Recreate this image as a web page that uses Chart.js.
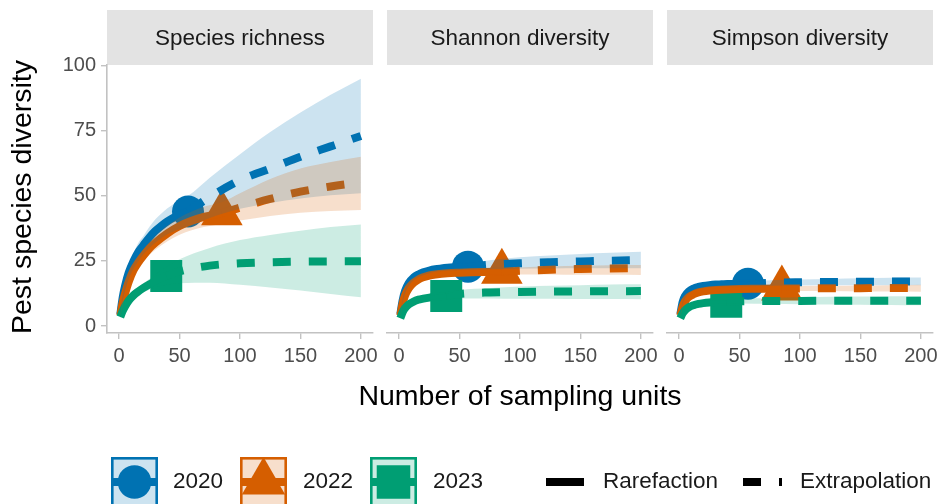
<!DOCTYPE html>
<html>
<head>
<meta charset="utf-8">
<script src="https://cdn.jsdelivr.net/npm/chart.js@4.4.1/dist/chart.umd.min.js"></script>
<style>
  html, body { margin: 0; padding: 0; background: #ffffff; }
  #wrap { position: relative; width: 942px; height: 504px; overflow: hidden; }
  #wrap canvas { position: absolute; left: 0; top: 0; }
</style>
</head>
<body>
<div id="wrap">
  <canvas id="panel0" width="1000" height="504"></canvas>
  <canvas id="panel1" width="1000" height="504"></canvas>
  <canvas id="panel2" width="1000" height="504"></canvas>
</div>
<script>
const FONT = "'Liberation Sans', Arial, Helvetica, sans-serif";

const panelTitles = ['Species richness', 'Shannon diversity', 'Simpson diversity'];
const years = ['2020', '2022', '2023'];
const methodLabels = ['Rarefaction', 'Extrapolation'];
const xTickValues = [0, 50, 100, 150, 200];
const yTickValues = [0, 25, 50, 75, 100];

// Sampling-unit grids; the reference sample size splits rarefaction from extrapolation
const units2020 = [1, 3, 5, 8, 12, 16, 20, 25, 30, 35, 40, 45, 50, 57, 75, 100, 125, 150, 175, 200];
const units2022 = [1, 3, 5, 8, 12, 16, 20, 25, 30, 40, 50, 60, 70, 85, 100, 125, 150, 175, 200];
const units2023 = [1, 3, 5, 8, 12, 16, 20, 25, 30, 35, 39, 50, 75, 100, 125, 150, 175, 200];
const refUnits = [57, 85, 39];

// Species richness (q = 0)
const richness2020   = [4.5, 11, 15.5, 20.5, 25, 28.5, 31, 34, 36.5, 38.5, 40.2, 41.6, 42.8, 44, 49.5, 56, 60.5, 65, 69, 73];
const richness2020Lo = [3.5, 9.5, 13.5, 18, 22, 25, 27.5, 30, 32, 33.8, 35.2, 36.3, 37.2, 38.3, 41.5, 45, 47.3, 49, 50.2, 51];
const richness2020Hi = [5.5, 12.5, 17.5, 23, 28, 32, 34.5, 38, 41, 43.2, 45.2, 46.9, 48.4, 50, 57, 66, 74.5, 82, 88.8, 95];
const richness2022   = [4, 9, 12.5, 17, 21.5, 24.5, 27, 29.8, 32, 35.6, 38.4, 40.4, 41.9, 43.3, 45.5, 48.8, 51.6, 53.6, 55.2];
const richness2022Lo = [3.3, 8, 11.2, 15.4, 19.6, 22.4, 24.7, 27.3, 29.3, 32.6, 35.1, 36.8, 38, 39.2, 40.5, 42.3, 43.5, 44.2, 44.6];
const richness2022Hi = [4.7, 10, 13.8, 18.6, 23.4, 26.6, 29.3, 32.3, 34.7, 38.6, 41.7, 44, 45.8, 47.6, 51, 56.5, 60.5, 63, 65];
const richness2023   = [3.5, 5.8, 7.6, 9.8, 11.8, 13.3, 14.6, 16, 17.3, 18.4, 19.2, 21, 23.2, 24.1, 24.5, 24.7, 24.8, 24.9];
const richness2023Lo = [3, 5.1, 6.7, 8.7, 10.4, 11.7, 12.8, 13.9, 14.8, 15.4, 15.8, 16.4, 16.6, 15.8, 14.8, 13.6, 12.3, 11];
const richness2023Hi = [4, 6.5, 8.5, 10.9, 13.2, 14.9, 16.4, 18.1, 19.8, 21.4, 22.6, 25.6, 30, 33, 35, 36.6, 38, 39];

// Shannon diversity (q = 1)
const shannon2020   = [4.5, 10, 13.5, 16.5, 18.6, 19.8, 20.6, 21.3, 21.8, 22.1, 22.35, 22.55, 22.7, 22.8, 23.5, 24.1, 24.5, 24.8, 25.1, 25.3];
const shannon2020Lo = [4, 9.2, 12.6, 15.5, 17.6, 18.8, 19.6, 20.3, 20.8, 21.1, 21.3, 21.4, 21.5, 21.6, 21.8, 22, 22.1, 22.2, 22.2, 22.2];
const shannon2020Hi = [5, 10.8, 14.4, 17.5, 19.6, 20.8, 21.6, 22.3, 22.8, 23.1, 23.4, 23.7, 23.9, 24.1, 25.3, 26.4, 27.1, 27.7, 28.1, 28.5];
const shannon2022   = [4, 8.8, 11.8, 14.5, 16.6, 17.9, 18.7, 19.4, 19.8, 20.3, 20.5, 20.65, 20.75, 20.85, 21.2, 21.6, 21.9, 22.1, 22.3];
const shannon2022Lo = [3.6, 8.2, 11.1, 13.8, 15.9, 17.2, 18, 18.7, 19.1, 19.6, 19.8, 19.9, 19.9, 19.9, 19.8, 19.8, 19.7, 19.7, 19.6];
const shannon2022Hi = [4.4, 9.4, 12.5, 15.2, 17.3, 18.6, 19.4, 20.1, 20.5, 21, 21.2, 21.4, 21.6, 21.8, 22.5, 22.9, 23.1, 23.3, 23.4];
const shannon2023   = [3, 5.4, 6.9, 8.3, 9.4, 10.1, 10.5, 10.9, 11.2, 11.4, 11.5, 12.3, 12.9, 13.1, 13.2, 13.3, 13.35, 13.4];
const shannon2023Lo = [2.7, 5, 6.4, 7.8, 8.8, 9.5, 9.9, 10.2, 10.4, 10.5, 10.5, 10.6, 10.6, 10.5, 10.5, 10.4, 10.4, 10.3];
const shannon2023Hi = [3.3, 5.8, 7.4, 8.8, 10, 10.7, 11.1, 11.6, 11.9, 12.2, 12.4, 13.7, 14.6, 15.2, 15.5, 15.7, 15.9, 16];

// Simpson diversity (q = 2)
const simpson2020   = [4.5, 9.3, 11.6, 13.3, 14.4, 15, 15.4, 15.7, 15.9, 16, 16.1, 16.15, 16.2, 16.25, 16.6, 16.8, 16.9, 17, 17.05, 17.1];
const simpson2020Lo = [4, 8.6, 10.8, 12.5, 13.6, 14.2, 14.6, 14.9, 15.1, 15.2, 15.3, 15.3, 15.3, 15.3, 15.5, 15.6, 15.7, 15.7, 15.7, 15.7];
const simpson2020Hi = [5, 10, 12.4, 14.1, 15.2, 15.8, 16.2, 16.5, 16.7, 16.8, 16.9, 17, 17.1, 17.2, 17.6, 17.9, 18.1, 18.3, 18.5, 18.6];
const simpson2022   = [4, 7.6, 9.5, 11.1, 12.2, 12.9, 13.3, 13.6, 13.8, 14.05, 14.2, 14.3, 14.35, 14.4, 14.45, 14.5, 14.55, 14.6, 14.6];
const simpson2022Lo = [3.6, 7, 8.9, 10.5, 11.6, 12.3, 12.7, 13, 13.2, 13.4, 13.5, 13.5, 13.5, 13.5, 13.4, 13.4, 13.3, 13.3, 13.2];
const simpson2022Hi = [4.4, 8.2, 10.1, 11.7, 12.8, 13.5, 13.9, 14.2, 14.4, 14.7, 14.9, 15, 15.1, 15.3, 15.4, 15.5, 15.6, 15.7, 15.8];
const simpson2023   = [3, 4.9, 6.1, 7.2, 8, 8.5, 8.8, 9.05, 9.2, 9.3, 9.35, 9.5, 9.6, 9.65, 9.7, 9.7, 9.7, 9.7];
const simpson2023Lo = [2.7, 4.5, 5.7, 6.8, 7.5, 8, 8.3, 8.5, 8.6, 8.7, 8.7, 8.6, 8.5, 8.4, 8.3, 8.2, 8.1, 8];
const simpson2023Hi = [3.3, 5.3, 6.5, 7.6, 8.5, 9, 9.3, 9.6, 9.8, 9.9, 10, 10.5, 10.8, 11, 11.2, 11.3, 11.4, 11.5];

// Styling
const seriesColors = ['#0072B2', '#D55E00', '#009E73'];
const bandColors = ['rgba(0,114,178,0.2)', 'rgba(213,94,0,0.2)', 'rgba(0,158,115,0.2)'];
const pointStyles = ['circle', 'triangle', 'rect'];
const pointRadii = [16, 24, 22.6];
const LINE_W = 8;
const DASH = [18, 18];
const AXIS_GREY = '#C2C2C2';

const unitGrids = [units2020, units2022, units2023];
const meanSets = [
  [richness2020, richness2022, richness2023],
  [shannon2020, shannon2022, shannon2023],
  [simpson2020, simpson2022, simpson2023]
];
const lowSets = [
  [richness2020Lo, richness2022Lo, richness2023Lo],
  [shannon2020Lo, shannon2022Lo, shannon2023Lo],
  [simpson2020Lo, simpson2022Lo, simpson2023Lo]
];
const highSets = [
  [richness2020Hi, richness2022Hi, richness2023Hi],
  [shannon2020Hi, shannon2022Hi, shannon2023Hi],
  [simpson2020Hi, simpson2022Hi, simpson2023Hi]
];

// Panel frames in page pixels
const CANVAS_W = 1000;
const panelLeft = [107, 387, 667];
const panelWidth = 266;
const panelTop = 65;
const panelBottom = 333;
const X_AXIS_H = 36;
const Y_AXIS_W = 52;

function toPoints(xs, ys, from, to) {
  const out = [];
  for (let i = from; i <= to; i++) out.push({ x: xs[i], y: ys[i] });
  return out;
}

function buildDatasets(p) {
  const seq = [];
  // points first, then curves, then the translucent confidence bands on top
  years.forEach((yr, k) => {
    const grid = unitGrids[k];
    const r = grid.indexOf(refUnits[k]);
    seq.push({
      label: yr + ' observed',
      data: [{ x: grid[r], y: meanSets[p][k][r] }],
      showLine: false,
      pointStyle: pointStyles[k],
      pointRadius: pointRadii[k],
      pointBackgroundColor: seriesColors[k],
      pointBorderWidth: 0,
      borderColor: seriesColors[k]
    });
  });
  years.forEach((yr, k) => {
    const grid = unitGrids[k];
    const r = grid.indexOf(refUnits[k]);
    seq.push({
      label: yr + ' ' + methodLabels[0],
      data: toPoints(grid, meanSets[p][k], 0, r),
      borderColor: seriesColors[k],
      borderWidth: LINE_W,
      borderCapStyle: 'butt',
      cubicInterpolationMode: 'monotone',
      pointRadius: 0,
      fill: false
    });
    seq.push({
      label: yr + ' ' + methodLabels[1],
      data: toPoints(grid, meanSets[p][k], r, grid.length - 1),
      borderColor: seriesColors[k],
      borderWidth: LINE_W,
      borderDash: DASH,
      borderCapStyle: 'butt',
      cubicInterpolationMode: 'monotone',
      pointRadius: 0,
      fill: false
    });
  });
  years.forEach((yr, k) => {
    const grid = unitGrids[k];
    seq.push({
      label: yr + ' lower',
      data: toPoints(grid, lowSets[p][k], 0, grid.length - 1),
      borderColor: 'rgba(0,0,0,0)',
      borderWidth: 0,
      cubicInterpolationMode: 'monotone',
      pointRadius: 0,
      fill: false
    });
    seq.push({
      label: yr + ' upper',
      data: toPoints(grid, highSets[p][k], 0, grid.length - 1),
      borderColor: 'rgba(0,0,0,0)',
      borderWidth: 0,
      backgroundColor: bandColors[k],
      cubicInterpolationMode: 'monotone',
      pointRadius: 0,
      fill: '-1'
    });
  });
  const n = seq.length;
  seq.forEach((d, i) => { d.order = n - i; d.type = 'line'; });
  return seq;
}

// Grey facet strip above each panel
const stripPlugin = {
  id: 'facetStrip',
  beforeDraw(chart, args, opts) {
    const { ctx, chartArea } = chart;
    ctx.save();
    ctx.fillStyle = '#E3E3E3';
    ctx.fillRect(chartArea.left, 10, chartArea.right - chartArea.left, 55);
    ctx.fillStyle = '#1A1A1A';
    ctx.font = '22.5px ' + FONT;
    ctx.textAlign = 'center';
    ctx.textBaseline = 'middle';
    ctx.fillText(opts.text, (chartArea.left + chartArea.right) / 2, 38.5);
    ctx.restore();
  }
};

function drawMarker(ctx, style, r, x, y) {
  ctx.beginPath();
  if (style === 'circle') {
    ctx.arc(x, y, r, 0, Math.PI * 2);
  } else if (style === 'triangle') {
    for (let i = 0; i < 3; i++) {
      const a = i * 2 * Math.PI / 3;
      const px = x + Math.sin(a) * r, py = y - Math.cos(a) * r;
      if (i === 0) ctx.moveTo(px, py); else ctx.lineTo(px, py);
    }
    ctx.closePath();
  } else {
    const s = Math.SQRT1_2 * r;
    ctx.rect(x - s, y - s, 2 * s, 2 * s);
  }
  ctx.fill();
}

// Shared axis titles and the bottom legend
const decorPlugin = {
  id: 'pageDecor',
  afterDraw(chart) {
    const ctx = chart.ctx;
    ctx.save();
    ctx.fillStyle = '#000000';
    ctx.font = '28.5px ' + FONT;
    ctx.textAlign = 'center';
    ctx.textBaseline = 'middle';
    ctx.fillText('Number of sampling units', 520, 397);
    ctx.save();
    ctx.translate(23, 197);
    ctx.rotate(-Math.PI / 2);
    ctx.fillText('Pest species diversity', 0, 0);
    ctx.restore();

    const cy = 482;
    const keyX = [111, 240, 370];
    const labelX = [173, 303, 433];
    const keyW = 47;
    const keyTop = 457;
    ctx.font = '22.5px ' + FONT;
    ctx.textAlign = 'left';
    years.forEach((yr, k) => {
      const x0 = keyX[k];
      ctx.save();
      ctx.beginPath();
      ctx.rect(x0, keyTop, keyW, 60);
      ctx.clip();
      ctx.fillStyle = bandColors[k];
      ctx.fillRect(x0, keyTop, keyW, 60);
      ctx.strokeStyle = seriesColors[k];
      ctx.lineWidth = LINE_W;
      ctx.beginPath();
      ctx.moveTo(x0, cy);
      ctx.lineTo(x0 + keyW, cy);
      ctx.stroke();
      ctx.fillStyle = seriesColors[k];
      drawMarker(ctx, pointStyles[k], k === 1 ? 25 : pointRadii[k] * 1.05, x0 + keyW / 2, cy);
      ctx.lineWidth = 2.6;
      ctx.strokeRect(x0 + 1.3, keyTop + 1.3, keyW - 2.6, 60);
      ctx.restore();
      ctx.fillStyle = '#1A1A1A';
      ctx.fillText(yr, labelX[k], cy);
    });

    ctx.strokeStyle = '#000000';
    ctx.lineWidth = LINE_W;
    ctx.lineCap = 'butt';
    ctx.beginPath();
    ctx.moveTo(546, cy);
    ctx.lineTo(584, cy);
    ctx.stroke();
    ctx.setLineDash(DASH);
    ctx.beginPath();
    ctx.moveTo(743, cy);
    ctx.lineTo(782, cy);
    ctx.stroke();
    ctx.setLineDash([]);
    ctx.fillStyle = '#1A1A1A';
    ctx.fillText(methodLabels[0], 603, cy);
    ctx.fillText(methodLabels[1], 800, cy);
    ctx.restore();
  }
};

function makeChart(p) {
  const left = panelLeft[p];
  const right = left + panelWidth;
  const showY = p === 0;
  const yW = showY ? Y_AXIS_W : 0;
  const plugins = [stripPlugin];
  if (p === 0) plugins.push(decorPlugin);
  return new Chart(document.getElementById('panel' + p), {
    type: 'line',
    data: { datasets: buildDatasets(p) },
    plugins: plugins,
    options: {
      responsive: false,
      animation: false,
      events: [],
      layout: {
        padding: {
          left: left - yW,
          right: CANVAS_W - right,
          top: panelTop,
          bottom: 504 - panelBottom - X_AXIS_H
        }
      },
      plugins: {
        legend: { display: false },
        tooltip: { enabled: false },
        facetStrip: { text: panelTitles[p] }
      },
      scales: {
        x: {
          type: 'linear',
          min: -10,
          max: 210,
          afterBuildTicks: s => { s.ticks = xTickValues.map(v => ({ value: v })); },
          afterFit: s => { s.height = X_AXIS_H; s.paddingLeft = 0; s.paddingRight = 0; },
          ticks: {
            font: { family: FONT, size: 20 },
            color: '#4D4D4D',
            padding: 5,
            maxRotation: 0,
            autoSkip: false
          },
          grid: { drawOnChartArea: false, drawTicks: true, tickLength: 6, color: AXIS_GREY, lineWidth: 1.4 },
          border: { display: true, color: AXIS_GREY, width: 1.6 }
        },
        y: {
          type: 'linear',
          display: showY,
          min: -2.69,
          max: 100.27,
          afterBuildTicks: s => { s.ticks = yTickValues.map(v => ({ value: v })); },
          afterFit: s => { s.width = yW; s.paddingTop = 0; s.paddingBottom = 0; },
          ticks: {
            font: { family: FONT, size: 20 },
            color: '#4D4D4D',
            padding: 5
          },
          grid: { drawOnChartArea: false, drawTicks: true, tickLength: 6, color: AXIS_GREY, lineWidth: 1.4 },
          border: { display: true, color: AXIS_GREY, width: 1.6 }
        }
      }
    }
  });
}

[0, 1, 2].forEach(makeChart);
</script>
</body>
</html>
